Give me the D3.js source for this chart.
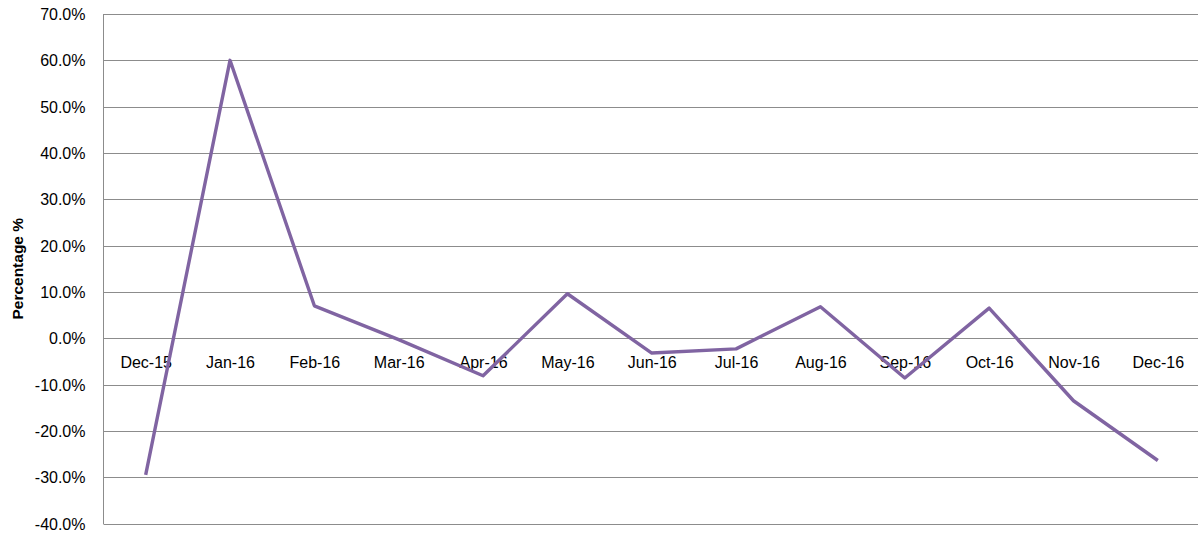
<!DOCTYPE html>
<html>
<head>
<meta charset="utf-8">
<script src="https://cdn.jsdelivr.net/npm/d3@7"></script>
<style>
  body { margin: 0; background: #fff; }
  svg { display: block; }
</style>
</head>
<body>
<svg width="1198" height="533"></svg>
<script>
var months = ["Dec-15", "Jan-16", "Feb-16", "Mar-16", "Apr-16", "May-16", "Jun-16",
  "Jul-16", "Aug-16", "Sep-16", "Oct-16", "Nov-16", "Dec-16"];
var pct = [-29.5, 60.0, 7.0, -0.3, -8.1, 9.6, -3.2, -2.3, 6.8, -8.6, 6.5, -13.5, -26.4];
var yTicks = [-40, -30, -20, -10, 0, 10, 20, 30, 40, 50, 60, 70];

var svg = d3.select("svg"),
  plotLeft = 103.5,
  plotTop = 14,
  plotBottom = 523.5,
  width = +svg.attr("width");

var font = "'Liberation Sans', Arial, sans-serif";

var x = d3.scalePoint().domain(months).range([plotLeft, 1200]).padding(0.5);
var y = d3.scaleLinear().domain([-40, 70]).range([plotBottom, plotTop]);

// plain hyphen for negatives, like the original
var fmt = d3.formatLocale({ decimal: ".", thousands: ",", grouping: [3], currency: ["", ""], minus: "-" })
  .format(".1f");

// gridlines
svg.append("g")
  .selectAll("line")
  .data(yTicks)
  .enter()
  .append("line")
  .attr("x1", plotLeft)
  .attr("x2", width)
  .attr("y1", function (d) { return Math.round(y(d)) + 0.5; })
  .attr("y2", function (d) { return Math.round(y(d)) + 0.5; })
  .attr("stroke", "#8c8c8c")
  .attr("stroke-width", 1);

// left axis line
svg.append("line")
  .attr("x1", plotLeft).attr("x2", plotLeft)
  .attr("y1", y(70)).attr("y2", y(-40) + 0.5)
  .attr("stroke", "#8c8c8c");

// y axis labels
var yAxis = svg.append("g")
  .attr("transform", "translate(" + plotLeft + ",0)")
  .call(d3.axisLeft(y).tickValues(yTicks).tickSize(0).tickPadding(18)
    .tickFormat(function (d) { return fmt(d) + "%"; }));
yAxis.select(".domain").remove();
yAxis.selectAll("text")
  .style("font-family", font)
  .style("font-size", "16px")
  .attr("fill", "#000")
  .attr("dy", "0.35em");

// x axis labels sitting under the zero line
var xAxis = svg.append("g")
  .attr("transform", "translate(0," + y(0) + ")")
  .call(d3.axisBottom(x).tickSize(0).tickPadding(0));
xAxis.select(".domain").remove();
xAxis.selectAll("text")
  .attr("y", 30)
  .attr("dy", null)
  .style("font-family", font)
  .style("font-size", "16px")
  .attr("fill", "#000");

// y title
svg.append("text")
  .attr("text-anchor", "middle")
  .attr("transform", "translate(23," + (plotTop + plotBottom) / 2 + ")rotate(-90)")
  .style("font-family", font)
  .style("font-size", "15.5px")
  .style("font-weight", "bold")
  .text("Percentage %");

// line
var line = d3.line()
  .x(function (d, i) { return x(months[i]); })
  .y(function (d) { return y(d); });

svg.append("path")
  .datum(pct)
  .attr("d", line)
  .attr("fill", "none")
  .attr("stroke", "#8064a2")
  .attr("stroke-width", 3.4)
  .attr("stroke-linejoin", "round");
</script>
</body>
</html>
